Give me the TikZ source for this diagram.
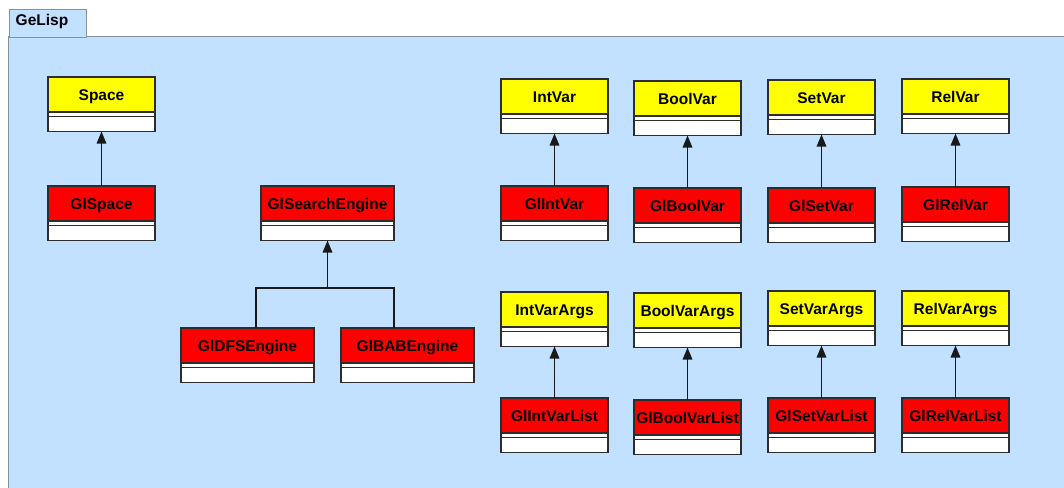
\documentclass[tikz,border=0pt]{standalone}
\usepackage{fontspec}
\setmainfont{Liberation Sans}
\usetikzlibrary{positioning,arrows.meta}
\definecolor{panelblue}{RGB}{194,224,255}
\definecolor{panelline}{RGB}{135,145,155}
\definecolor{boxline}{RGB}{45,45,45}
\definecolor{umlyellow}{RGB}{255,255,0}
\definecolor{umlred}{RGB}{255,0,0}
\tikzset{
  classname/.style={draw=boxline, line width=1.1pt, anchor=north west, inner sep=0pt, outer sep=0pt,
    minimum height=35pt, text height=11pt, text depth=0pt,
    font=\fontsize{15.5}{17}\selectfont\bfseries, text=black},
  classstrip/.style={draw=boxline, fill=white, line width=1.1pt, inner sep=0pt, outer sep=0pt, minimum height=4.5pt},
  classbody/.style={draw=boxline, fill=white, line width=1.1pt, inner sep=0pt, outer sep=0pt, minimum height=15pt},
  inh/.style={draw=black!90, line width=1.6pt, -{Triangle[length=12pt,width=9.5pt]}},
  plainline/.style={draw=black!90, line width=1.6pt},
}
\newcommand\umlclass[6]{%
  \node[classname, fill=#5, minimum width=#4pt] (#1) at (#2,#3) {#6};
  \node[classstrip, minimum width=#4pt, below=0pt of #1] (#1-s) {};
  \node[classbody, minimum width=#4pt, below=0pt of #1-s] (#1-b) {};
}
\begin{document}
\begin{tikzpicture}[x=1pt,y=-1pt]
\useasboundingbox (0,0) rectangle (1064,487);
\fill[white] (0,0) rectangle (1064,487);
% panel
\fill[panelblue] (8.5,37) rectangle (1070,492);
\draw[panelline, line width=1pt] (1070,37) -- (8.5,37) -- (8.5,492);
% tab
\node[draw=panelline, fill=panelblue, line width=1pt, anchor=north west, inner sep=0pt,
  minimum width=77.5pt, minimum height=27.5pt] (tab) at (8.5,9.5) {};
\node[anchor=west, inner sep=0pt, font=\fontsize{15.5}{17}\selectfont\bfseries] (tabtext) at (15.5,21) {GeLisp};
% classes
\umlclass{Space}{48}{77}{107}{umlyellow}{Space}
\umlclass{GlSpace}{48}{186}{107}{umlred}{GlSpace}
\umlclass{GlSearchEngine}{261}{186}{133}{umlred}{GlSearchEngine}
\umlclass{GlDFSEngine}{181}{328}{133}{umlred}{GlDFSEngine}
\umlclass{GlBABEngine}{341}{328}{133}{umlred}{GlBABEngine}
\umlclass{IntVar}{501}{79}{107}{umlyellow}{IntVar}
\umlclass{BoolVar}{634}{81}{107}{umlyellow}{BoolVar}
\umlclass{SetVar}{768}{80}{107}{umlyellow}{SetVar}
\umlclass{RelVar}{902}{79}{107}{umlyellow}{RelVar}
\umlclass{GlIntVar}{501}{186}{107}{umlred}{GlIntVar}
\umlclass{GlBoolVar}{634}{188}{107}{umlred}{GlBoolVar}
\umlclass{GlSetVar}{768}{188}{107}{umlred}{GlSetVar}
\umlclass{GlRelVar}{902}{187}{107}{umlred}{GlRelVar}
\umlclass{IntVarArgs}{501}{292}{107}{umlyellow}{IntVarArgs}
\umlclass{BoolVarArgs}{634}{293}{107}{umlyellow}{BoolVarArgs}
\umlclass{SetVarArgs}{768}{291}{107}{umlyellow}{SetVarArgs}
\umlclass{RelVarArgs}{902}{291}{107}{umlyellow}{RelVarArgs}
\umlclass{GlIntVarList}{501}{398}{107}{umlred}{GlIntVarList}
\umlclass{GlBoolVarList}{634}{400}{107}{umlred}{GlBoolVarList}
\umlclass{GlSetVarList}{768}{398}{107}{umlred}{GlSetVarList}
\umlclass{GlRelVarList}{902}{398}{107}{umlred}{GlRelVarList}
% inheritance
\draw[inh] (GlSpace.north) -- (Space-b.south);
\draw[inh] (GlIntVar.north) -- (IntVar-b.south);
\draw[inh] (GlBoolVar.north) -- (BoolVar-b.south);
\draw[inh] (GlSetVar.north) -- (SetVar-b.south);
\draw[inh] (GlRelVar.north) -- (RelVar-b.south);
\draw[inh] (GlIntVarList.north) -- (IntVarArgs-b.south);
\draw[inh] (GlBoolVarList.north) -- (BoolVarArgs-b.south);
\draw[inh] (GlSetVarList.north) -- (SetVarArgs-b.south);
\draw[inh] (GlRelVarList.north) -- (RelVarArgs-b.south);
\coordinate (jm) at (327.5,288);
\coordinate (jl) at (256,288);
\coordinate (jr) at (394,288);
\draw[inh] (jm) -- (GlSearchEngine-b.south);
\draw[plainline] (GlDFSEngine.north -| jl) -- (jl) -- (jr) -- (GlBABEngine.north -| jr);
\end{tikzpicture}
\end{document}
